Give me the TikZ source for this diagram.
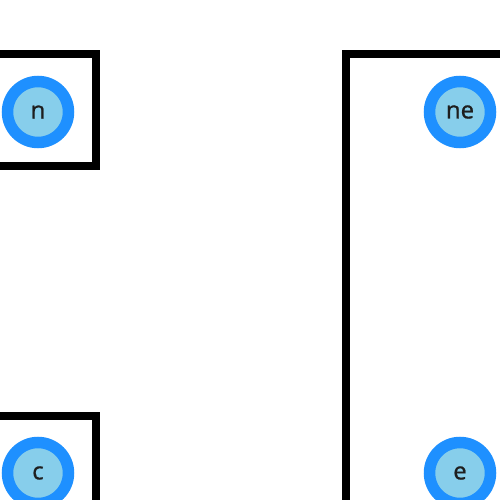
\documentclass[tikz,border=0pt]{standalone}
\usepackage{fontspec}
\setmainfont{Open Sans}
\newfontfamily\dotfont[FakeBold=0.8]{Open Sans}
\definecolor{ringblue}{RGB}{30,144,255}
\definecolor{innerblue}{RGB}{135,206,235}
\definecolor{txt}{RGB}{30,30,30}
\begin{document}
\begin{tikzpicture}[x=1pt,y=-1pt,
  dot/.style={circle,draw=ringblue,line width=11.5pt,fill=innerblue,minimum size=61pt,inner sep=0pt,text=txt,font=\dotfont\fontsize{24}{28}\selectfont},
  frame/.style={draw=black,line width=8.5pt}]
\useasboundingbox (0,0) rectangle (500,500);
\clip (0,0) rectangle (500,500);
\draw[frame] (-50,54) rectangle (96,166);
\draw[frame] (-50,416) rectangle (96,560);
\draw[frame] (346,54) rectangle (560,560);
\node[dot] (n) at (38,112) {n};
\node[dot] (c) at (38,473) {c};
\node[dot] (ne) at (460,112) {ne};
\node[dot] (e) at (460,473) {e};
\end{tikzpicture}
\end{document}
